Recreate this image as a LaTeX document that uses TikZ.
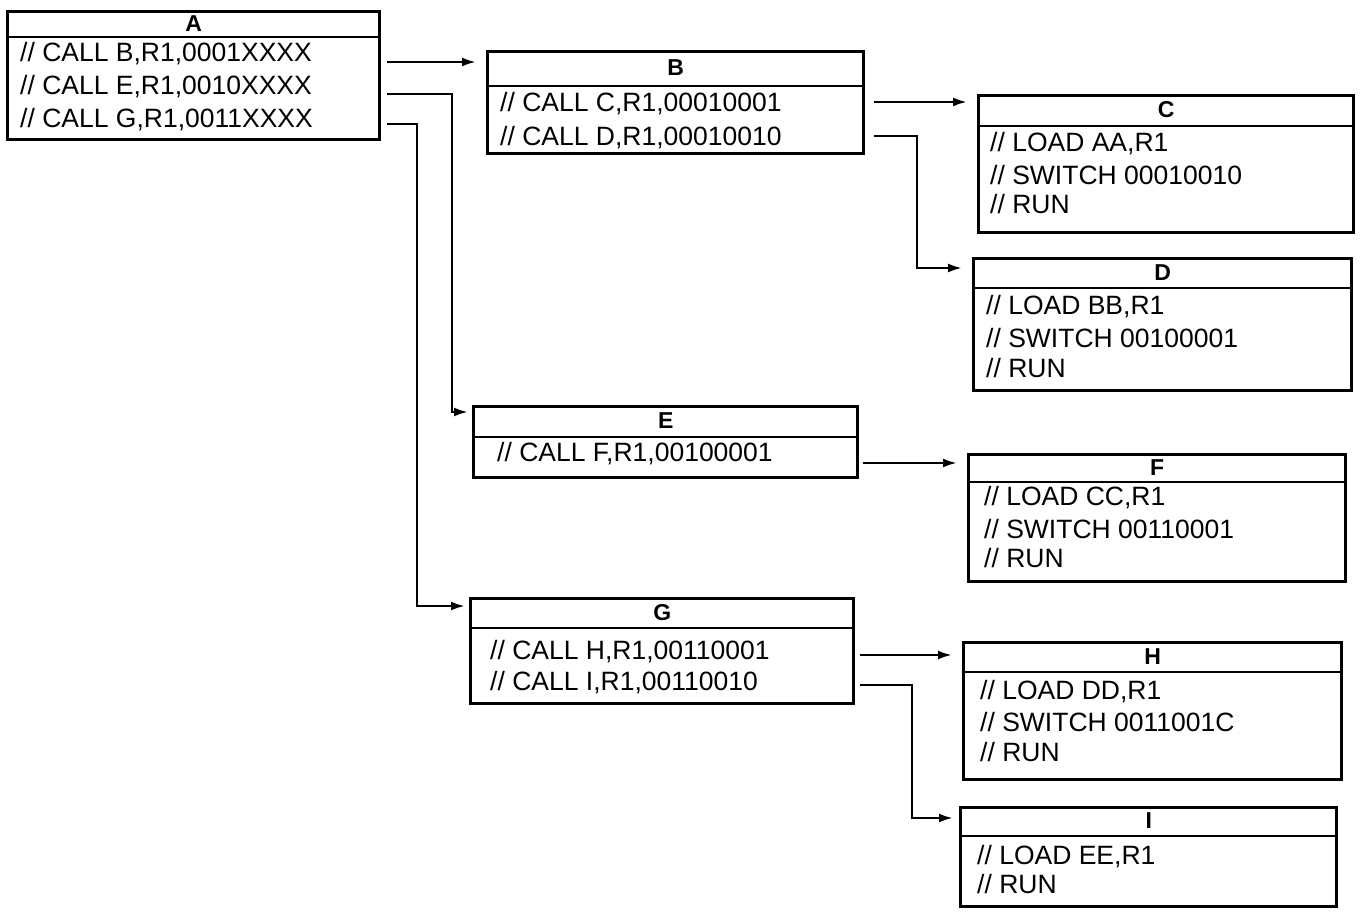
\documentclass[tikz,border=0pt]{standalone}
\usepackage{fontspec}
\setmainfont{Liberation Sans}
\usetikzlibrary{arrows.meta}
\begin{document}
\begin{tikzpicture}[x=1pt,y=-1pt,
  box/.style={draw,line width=3.4pt,inner sep=0pt,anchor=north west},
  hdr/.style={font=\fontsize{23}{23}\selectfont\bfseries,inner sep=0pt},
  row/.style={font=\fontsize{26.5}{27}\selectfont,inner sep=0pt,anchor=base west},
  div/.style={line width=2.2pt},
  arr/.style={line width=2.5pt,-{Latex[length=14pt,width=9pt]}}]
\useasboundingbox (0,0) rectangle (1363,912);
% boxes
\node[box,minimum width=372pt,minimum height=128pt] (A) at (6,10) {};
\node[box,minimum width=376pt,minimum height=102pt] (B) at (486,50) {};
\node[box,minimum width=375pt,minimum height=137pt] (C) at (977,94) {};
\node[box,minimum width=378pt,minimum height=132pt] (D) at (972,257) {};
\node[box,minimum width=384pt,minimum height=71pt] (E) at (472,405) {};
\node[box,minimum width=377pt,minimum height=127pt] (F) at (967,453) {};
\node[box,minimum width=383pt,minimum height=105pt] (G) at (469,597) {};
\node[box,minimum width=378pt,minimum height=137pt] (H) at (962,641) {};
\node[box,minimum width=376pt,minimum height=99pt] (I) at (959,806) {};
% dividers
\draw[div] (A.west |- 0,37) -- (A.east |- 0,37);
\draw[div] (B.west |- 0,86) -- (B.east |- 0,86);
\draw[div] (C.west |- 0,126) -- (C.east |- 0,126);
\draw[div] (D.west |- 0,288) -- (D.east |- 0,288);
\draw[div] (E.west |- 0,437) -- (E.east |- 0,437);
\draw[div] (F.west |- 0,482) -- (F.east |- 0,482);
\draw[div] (G.west |- 0,628) -- (G.east |- 0,628);
\draw[div] (H.west |- 0,672) -- (H.east |- 0,672);
\draw[div] (I.west |- 0,836) -- (I.east |- 0,836);
% headers
\node[hdr] (Ah) at (A.north |- 0,24) {A};
\node[hdr] (Bh) at (B.north |- 0,68) {B};
\node[hdr] (Ch) at (C.north |- 0,110) {C};
\node[hdr] (Dh) at (D.north |- 0,272.5) {D};
\node[hdr] (Eh) at (E.north |- 0,421) {E};
\node[hdr] (Fh) at (F.north |- 0,467.5) {F};
\node[hdr] (Gh) at (G.north |- 0,612.5) {G};
\node[hdr] (Hh) at (H.north |- 0,656.5) {H};
\node[hdr] (Ih) at (I.north |- 0,821) {I};
% rows
\node[row] (A1) at (20,62) {// CALL B,R1,0001XXXX};
\node[row] (A2) at (20,95) {// CALL E,R1,0010XXXX};
\node[row] (A3) at (20,128) {// CALL G,R1,0011XXXX};
\node[row] (B1) at (500,112) {// CALL C,R1,00010001};
\node[row] (B2) at (500,146) {// CALL D,R1,00010010};
\node[row] (C1) at (990,152) {// LOAD AA,R1};
\node[row] (C2) at (990,185) {// SWITCH 00010010};
\node[row] (C3) at (990,214) {// RUN};
\node[row] (D1) at (986,314) {// LOAD BB,R1};
\node[row] (D2) at (986,347) {// SWITCH 00100001};
\node[row] (D3) at (986,377) {// RUN};
\node[row] (E1) at (497,461) {// CALL F,R1,00100001};
\node[row] (F1) at (984,505) {// LOAD CC,R1};
\node[row] (F2) at (984,538) {// SWITCH 00110001};
\node[row] (F3) at (984,567) {// RUN};
\node[row] (G1) at (490,659) {// CALL H,R1,00110001};
\node[row] (G2) at (490,690) {// CALL I,R1,00110010};
\node[row] (H1) at (980,699) {// LOAD DD,R1};
\node[row] (H2) at (980,731) {// SWITCH 0011001C};
\node[row] (H3) at (980,761) {// RUN};
\node[row] (I1) at (977,864) {// LOAD EE,R1};
\node[row] (I2) at (977,893) {// RUN};
% connector start points
\coordinate (a1) at (387,62);
\coordinate (a2) at (387,94);
\coordinate (a3) at (387,124);
\coordinate (b1) at (874,102);
\coordinate (b2) at (874,136);
\coordinate (e1) at (863,463);
\coordinate (g1) at (860,655);
\coordinate (g2) at (860,685);
% connectors
\draw[arr] (a1) -- ([xshift=-10pt]a1 -| B.west);
\draw[arr] (a2) -- (452,94) |- ([xshift=-4pt]E.west |- 0,412);
\draw[arr] (a3) -- (417,124) |- ([xshift=-4pt]G.west |- 0,606);
\draw[arr] (b1) -- ([xshift=-10pt]b1 -| C.west);
\draw[arr] (b2) -- (917,136) |- ([xshift=-10pt]D.west |- 0,268);
\draw[arr] (e1) -- ([xshift=-10pt]e1 -| F.west);
\draw[arr] (g1) -- ([xshift=-10pt]g1 -| H.west);
\draw[arr] (g2) -- (912,685) |- ([xshift=-6pt]I.west |- 0,818);
\end{tikzpicture}
\end{document}
